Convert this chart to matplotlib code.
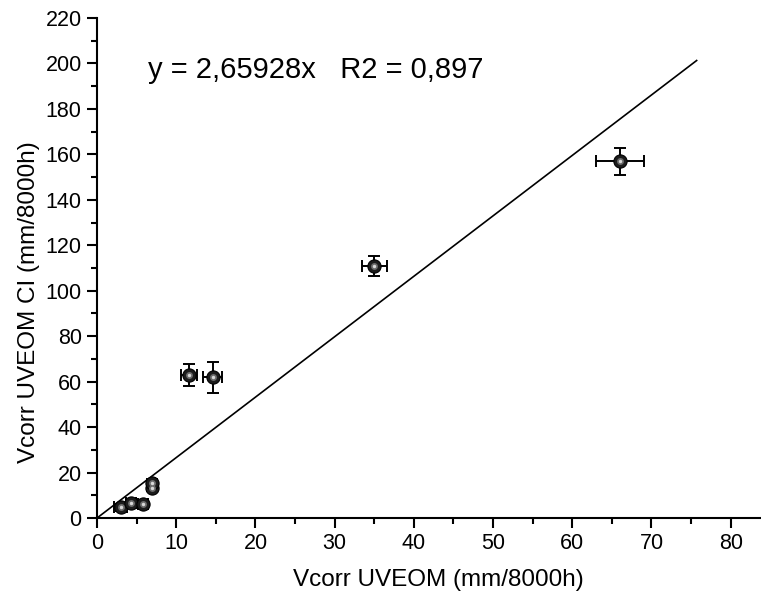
import matplotlib
matplotlib.use("Agg")
import matplotlib.pyplot as plt
import numpy as np
from matplotlib.ticker import MultipleLocator

plt.rcParams['font.family'] = ['Liberation Sans', 'DejaVu Sans']

x_vals = [3.0, 4.3, 5.8, 7.0, 7.0, 11.6, 14.6, 35.0, 66.0]
y_vals = [4.8, 6.8, 6.3, 13.3, 15.5, 63.0, 62.0, 111.0, 157.0]
x_err = [0.8, 0.6, 0.6, 0.3, 0.3, 1.0, 1.2, 1.6, 3.0]
y_err = [1.5, 1.2, 1.2, 1.5, 1.5, 4.8, 6.8, 4.5, 6.0]
slope = 2.65928
fit_x = [0, 75.7]
annotation = "y = 2,65928x   R2 = 0,897"
xlabel = "Vcorr UVEOM (mm/8000h)"
ylabel = "Vcorr UVEOM CI (mm/8000h)"

fig = plt.figure(figsize=(7.61, 5.97), dpi=100)
ax = fig.add_axes([0.1275, 0.1323, 0.8712, 0.8375])

ax.plot(fit_x, [slope * v for v in fit_x], color='black', lw=1.2, zorder=2)
ax.errorbar(x_vals, y_vals, xerr=x_err, yerr=y_err, fmt='none', ecolor='black',
            elinewidth=1.4, capsize=4, capthick=1.4, zorder=3)
ax.plot(x_vals, y_vals, 'o', ms=9.5, mfc='#1c1c1c', mec='black', mew=0.8, zorder=4)
ax.plot(x_vals, y_vals, 'o', ms=5, mfc='#6a6a6a', mec='none', zorder=5)
ax.plot(x_vals, y_vals, 'o', ms=2.5, mfc='#d8d8d8', mec='none', zorder=6)

ax.set_xlim(0, 83.7)
ax.set_ylim(0, 220)
ax.xaxis.set_major_locator(MultipleLocator(10))
ax.xaxis.set_minor_locator(MultipleLocator(5))
ax.yaxis.set_major_locator(MultipleLocator(20))
ax.yaxis.set_minor_locator(MultipleLocator(10))
for s in ['top', 'right']:
    ax.spines[s].set_visible(False)
for s in ['left', 'bottom']:
    ax.spines[s].set_linewidth(1.5)
ax.tick_params(which='major', direction='out', length=7, width=1.5, labelsize=15.5, pad=4)
ax.tick_params(which='minor', direction='out', length=4, width=1.5)

fig.text(438 / 761, 1 - 580 / 597, xlabel, fontsize=17.5, ha='center', va='center')
fig.text(29 / 761, 1 - 302 / 597, ylabel, fontsize=17.5, ha='center', va='center',
         rotation=90)
ax.text(6.4, 197, annotation, fontsize=21, va='center', ha='left')

fig.savefig("out.png", dpi=100)
